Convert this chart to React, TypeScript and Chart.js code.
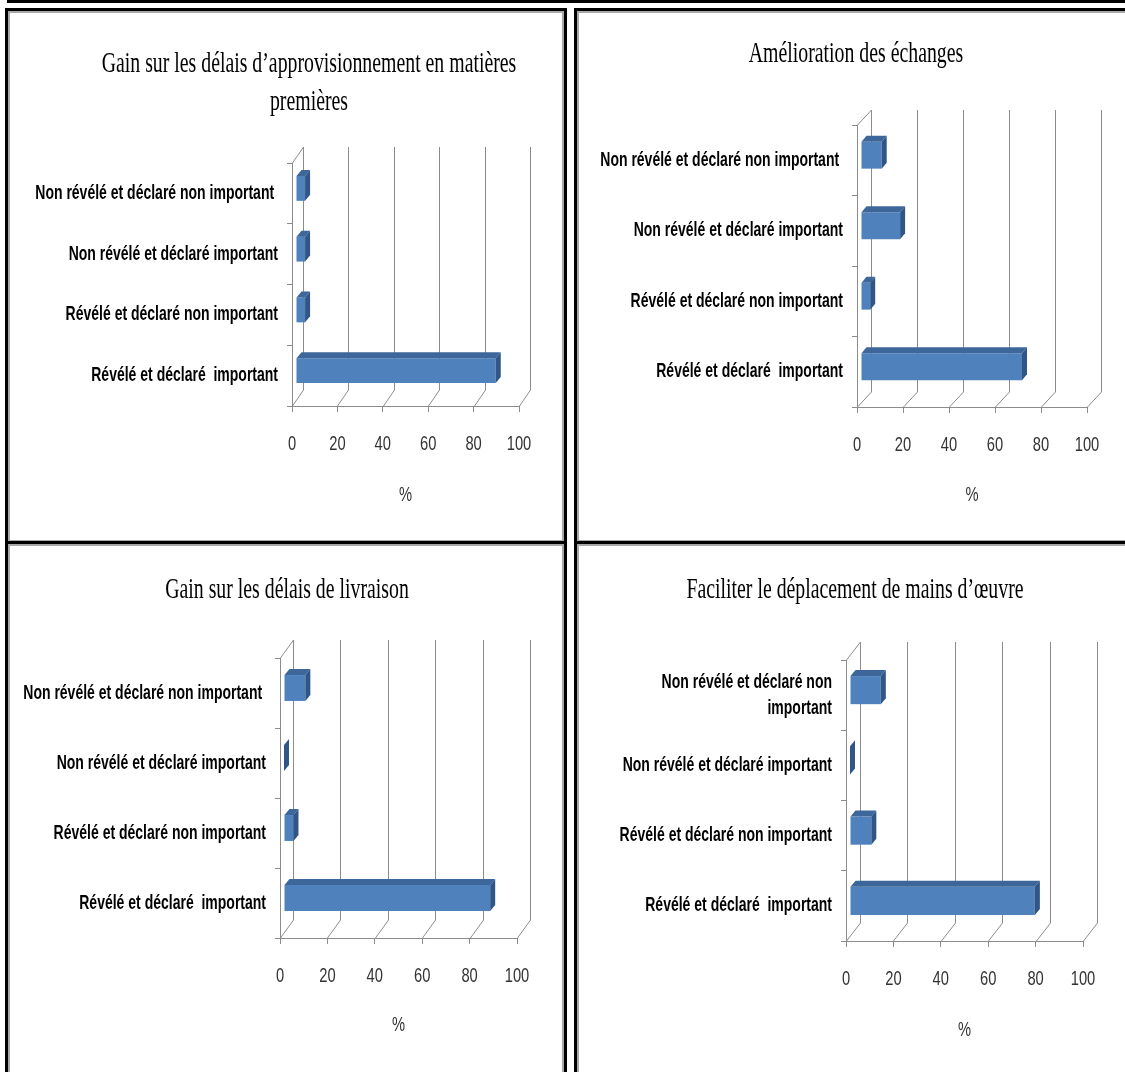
import React, { useEffect, useRef } from 'react';
import { Chart, registerables } from 'chart.js';

Chart.register(...registerables);

// ---------- data ----------
const categories = [
  'Non révélé et déclaré non important ',
  'Non révélé et déclaré important',
  'Révélé et déclaré non important',
  'Révélé et déclaré  important',
];
const categoriesWrapped = [
  ['Non révélé et déclaré non', 'important'],
  'Non révélé et déclaré important',
  'Révélé et déclaré non important',
  'Révélé et déclaré  important',
];
const percentTicks = [0, 20, 40, 60, 80, 100];

const titleApprovisionnement = ['Gain sur les délais d’approvisionnement en matières', 'premières'];
const titleEchanges = ['Amélioration des échanges'];
const titleLivraison = ['Gain sur les délais de livraison'];
const titleMainOeuvre = ['Faciliter le déplacement de mains d’œuvre'];

const approvisionnementValues = [4, 4, 4, 88];
const echangesValues = [9, 17, 4, 70];
const livraisonValues = [9, 0, 4, 87];
const mainOeuvreValues = [13, 0, 9, 78];

const axisTitle = '%';

// ---------- styles ----------
const FRONT = '#4F81BD';
const TOP = '#3D679B';
const SIDE = '#2F5686';
const GRID = '#8C8C8C';
const SANS = "'Liberation Sans', Arial, sans-serif";
const SERIF = "'Liberation Serif', 'Times New Roman', serif";

// Condensed text rendering (the source uses horizontally compressed fonts)
const condensedTextPlugin = {
  id: 'condensedText',
  afterInit(chart: any) {
    const ctx: any = chart.ctx;
    if (!ctx.__origFillText) ctx.__origFillText = ctx.fillText;
    const orig = ctx.__origFillText;
    ctx.fillText = function (text: string, x: number, y: number, maxWidth?: number) {
      const sx = /Serif/.test(ctx.font) ? 0.66 : 0.7;
      ctx.save();
      ctx.translate(x, y);
      ctx.scale(sx, 1);
      if (maxWidth === undefined) orig.call(ctx, text, 0, 0);
      else orig.call(ctx, text, 0, 0, maxWidth / sx);
      ctx.restore();
    };
  },
};

const panelTitlePlugin = {
  id: 'panelTitle',
  afterDraw(chart: any, _args: any, opts: any) {
    const { ctx } = chart;
    ctx.save();
    ctx.font = `${opts.size}px ${SERIF}`;
    ctx.fillStyle = '#000';
    ctx.textAlign = 'center';
    ctx.textBaseline = 'alphabetic';
    (opts.lines as string[]).forEach((line, i) => {
      ctx.fillText(line, opts.cx, opts.baselines[i]);
    });
    ctx.restore();
  },
};

const depthPlugin = {
  id: 'depth3d',
  beforeDatasetsDraw(chart: any, _args: any, opts: any) {
    const { ctx, chartArea, scales } = chart;
    const xs = scales.x;
    const { dx, dy } = opts;
    const top = chartArea.top;
    const bottom = chartArea.bottom;
    ctx.save();
    ctx.strokeStyle = GRID;
    ctx.lineWidth = 1;
    ctx.beginPath();
    const x0 = Math.round(xs.getPixelForValue(xs.min)) + 0.5;
    ctx.moveTo(x0, top);
    ctx.lineTo(x0 + dx, top - dy);
    xs.ticks.forEach((t: any) => {
      const px = Math.round(xs.getPixelForValue(t.value)) + 0.5;
      ctx.moveTo(px, bottom);
      ctx.lineTo(px + dx, bottom - dy);
      ctx.moveTo(px + dx, bottom - dy);
      ctx.lineTo(px + dx, top - dy);
    });
    ctx.stroke();
    ctx.restore();
    // bars sit a little behind the front plane
    ctx.save();
    ctx.translate(opts.shiftX, -opts.shiftY);
  },
  afterDatasetsDraw(chart: any, _args: any, opts: any) {
    const { ctx } = chart;
    const { bdx, bdy } = opts;
    const meta = chart.getDatasetMeta(0);
    meta.data.forEach((bar: any) => {
      const { x, y, base, height } = bar.getProps(['x', 'y', 'base', 'height'], true);
      const yT = y - height / 2;
      const yB = y + height / 2;
      const left = Math.min(x, base);
      const right = Math.max(x, base);
      ctx.fillStyle = TOP;
      ctx.beginPath();
      ctx.moveTo(left, yT);
      ctx.lineTo(right, yT);
      ctx.lineTo(right + bdx, yT - bdy);
      ctx.lineTo(left + bdx, yT - bdy);
      ctx.closePath();
      ctx.fill();
      ctx.fillStyle = SIDE;
      ctx.beginPath();
      ctx.moveTo(right, yT);
      ctx.lineTo(right + bdx, yT - bdy);
      ctx.lineTo(right + bdx, yB - bdy);
      ctx.lineTo(right, yB);
      ctx.closePath();
      ctx.fill();
    });
    ctx.restore();
  },
};

type Geo = {
  left: number; top: number; width: number; height: number;
  areaLeft: number; areaRight: number; areaTop: number; areaBottom: number;
  dx: number; dy: number; barPct: number;
  titleX: number; titleBaselines: number[];
  pctPad: number; labelLineHeight: number;
};

function ChartPanel({ labels, values, title, geo }: { labels: any[]; values: number[]; title: string[]; geo: Geo }) {
  const ref = useRef<HTMLCanvasElement>(null);
  useEffect(() => {
    const canvas = ref.current!;
    const chart = new Chart(canvas, {
      type: 'bar',
      data: {
        labels,
        datasets: [{
          data: values,
          backgroundColor: FRONT,
          borderWidth: 0,
          categoryPercentage: 1,
          barPercentage: geo.barPct,
        }],
      },
      options: {
        indexAxis: 'y',
        animation: false,
        responsive: false,
        maintainAspectRatio: false,
        events: [],
        layout: { padding: { left: 0, top: geo.areaTop, right: geo.width - geo.areaRight, bottom: 0 } },
        plugins: {
          legend: { display: false },
          tooltip: { enabled: false },
          title: { display: false },
          panelTitle: { lines: title, cx: geo.titleX, baselines: geo.titleBaselines, size: 30 },
          depth3d: { dx: geo.dx, dy: geo.dy, bdx: 5, bdy: 6, shiftX: 4, shiftY: 5 },
        } as any,
        scales: {
          x: {
            type: 'linear',
            position: 'bottom',
            min: 0,
            max: 100,
            afterBuildTicks: (s: any) => { s.ticks = percentTicks.map((v) => ({ value: v })); },
            afterFit: (s: any) => { s.height = geo.height - geo.areaBottom; },
            ticks: { color: '#333', font: { family: SANS, size: 21 }, padding: 20 },
            grid: { drawOnChartArea: false, drawTicks: true, tickLength: 6, color: GRID },
            border: { display: true, color: GRID, width: 1 },
            title: {
              display: true,
              text: axisTitle,
              color: '#333',
              font: { family: SANS, size: 21 },
              padding: { top: 0, bottom: geo.pctPad },
            },
          },
          y: {
            type: 'category',
            afterFit: (s: any) => { s.width = geo.areaLeft; },
            ticks: {
              color: '#000',
              font: { family: SANS, size: 20, weight: 'bold', lineHeight: geo.labelLineHeight },
              padding: 9,
            },
            grid: { drawOnChartArea: false, drawTicks: true, tickLength: 5, color: GRID, offset: true },
            border: { display: true, color: GRID, width: 1 },
          },
        } as any,
      },
      plugins: [condensedTextPlugin, depthPlugin, panelTitlePlugin],
    } as any);
    return () => chart.destroy();
  }, []);
  return (
    <canvas
      ref={ref}
      width={geo.width}
      height={geo.height}
      style={{ position: 'absolute', left: geo.left, top: geo.top, width: geo.width, height: geo.height }}
    />
  );
}

const frameStyle = (left: number, top: number, width: number, height: number): React.CSSProperties => ({
  position: 'absolute',
  left,
  top,
  width,
  height,
  boxSizing: 'border-box',
  border: '3px solid #000',
  boxShadow: 'inset 0 0 0 2px #a8a8a8',
});

const geo1: Geo = {
  left: 8, top: 11, width: 555, height: 530,
  areaLeft: 284, areaRight: 511, areaTop: 152, areaBottom: 395,
  dx: 11, dy: 16, barPct: 0.41,
  titleX: 301, titleBaselines: [61, 99],
  pctPad: 33, labelLineHeight: 1.2,
};
const geo2: Geo = {
  left: 577, top: 11, width: 548, height: 530,
  areaLeft: 280, areaRight: 510, areaTop: 114, areaBottom: 396,
  dx: 14, dy: 15, barPct: 0.38,
  titleX: 279, titleBaselines: [51],
  pctPad: 33, labelLineHeight: 1.2,
};
const geo3: Geo = {
  left: 8, top: 545, width: 555, height: 527,
  areaLeft: 272, areaRight: 509, areaTop: 113, areaBottom: 393,
  dx: 13, dy: 18, barPct: 0.37,
  titleX: 279, titleBaselines: [53],
  pctPad: 34, labelLineHeight: 1.2,
};
const geo4: Geo = {
  left: 577, top: 545, width: 548, height: 527,
  areaLeft: 269, areaRight: 506, areaTop: 115, areaBottom: 396,
  dx: 14, dy: 18, barPct: 0.4,
  titleX: 278, titleBaselines: [53],
  pctPad: 29, labelLineHeight: 1.3,
};

export default function App() {
  return (
    <div style={{ position: 'fixed', left: 0, top: 0, width: 1125, height: 1072, background: '#fff', overflow: 'hidden' }}>
      <div style={{ position: 'absolute', left: 7, top: 0, width: 1118, height: 3, background: '#000' }} />
      <div style={frameStyle(5, 8, 562, 537)} />
      <div style={frameStyle(574, 8, 560, 537)} />
      <div style={frameStyle(5, 541, 562, 540)} />
      <div style={frameStyle(574, 541, 560, 540)} />
      <ChartPanel labels={categories} values={approvisionnementValues} title={titleApprovisionnement} geo={geo1} />
      <ChartPanel labels={categories} values={echangesValues} title={titleEchanges} geo={geo2} />
      <ChartPanel labels={categories} values={livraisonValues} title={titleLivraison} geo={geo3} />
      <ChartPanel labels={categoriesWrapped} values={mainOeuvreValues} title={titleMainOeuvre} geo={geo4} />
    </div>
  );
}
